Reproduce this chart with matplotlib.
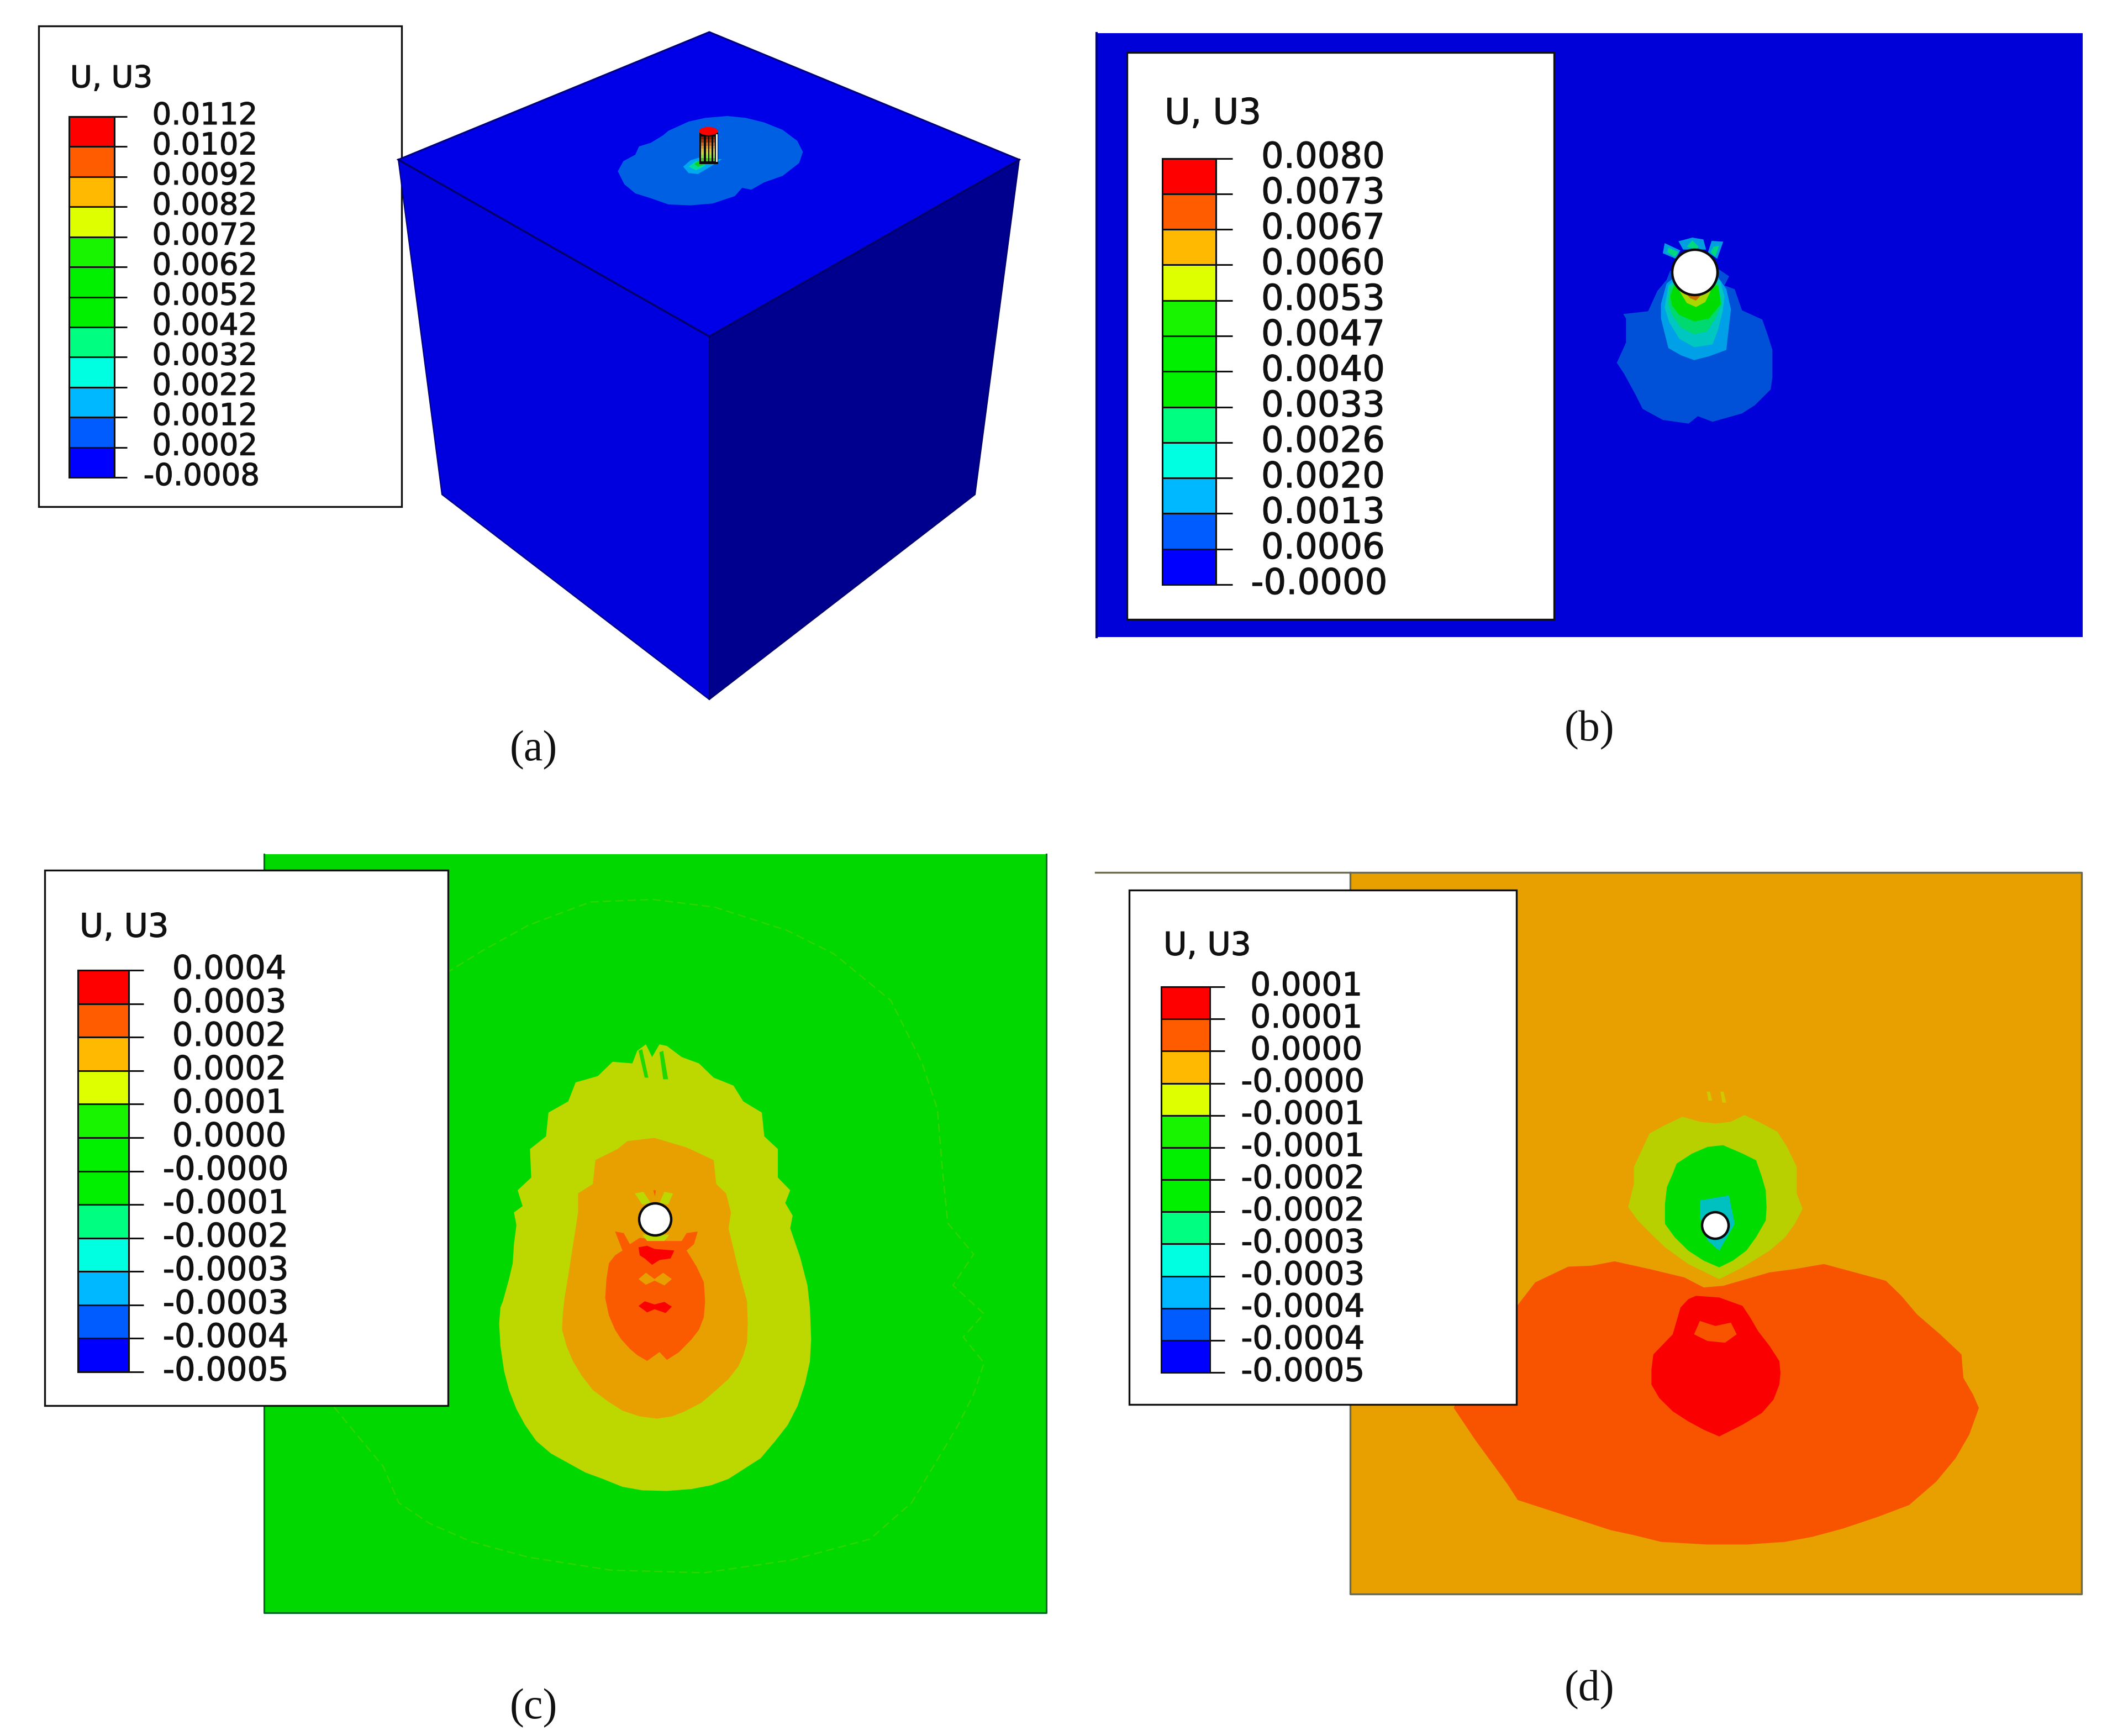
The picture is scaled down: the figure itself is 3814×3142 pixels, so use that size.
import matplotlib
matplotlib.use("Agg")
import matplotlib.pyplot as plt
import matplotlib.patheffects as pe
from matplotlib.patches import Polygon, Rectangle, Circle, Ellipse

W, H = 3814, 3142

# ---------------- legend data ----------------
TITLE = "U, U3"
LABELS_A = ["0.0112","0.0102","0.0092","0.0082","0.0072","0.0062","0.0052","0.0042","0.0032","0.0022","0.0012","0.0002","-0.0008"]
LABELS_B = ["0.0080","0.0073","0.0067","0.0060","0.0053","0.0047","0.0040","0.0033","0.0026","0.0020","0.0013","0.0006","-0.0000"]
LABELS_C = ["0.0004","0.0003","0.0002","0.0002","0.0001","0.0000","-0.0000","-0.0001","-0.0002","-0.0003","-0.0003","-0.0004","-0.0005"]
LABELS_D = ["0.0001","0.0001","0.0000","-0.0000","-0.0001","-0.0001","-0.0002","-0.0002","-0.0003","-0.0003","-0.0004","-0.0004","-0.0005"]
BAND_COLORS = ['#ff0000','#ff5c00','#ffb900','#deff00','#18f400','#00f000','#00f000','#00ff80','#00ffe0','#00b8ff','#005cff','#0000ff']
CAPTIONS = ["(a)", "(b)", "(c)", "(d)"]

# ---------------- contour outlines ----------------
A_ZONE = [(205,390),(235,335),(300,300),(320,255),(385,235),(450,195),(480,170),(590,120),(680,100),(800,90),(900,100),(1000,125),(1100,165),(1180,225),(1210,285),(1190,345),(1100,415),(1000,450),(930,490),(880,480),(840,525),(720,565),(600,575),(480,570),(380,535),(300,510),(240,460)]
A_SPOT1 = [(560,365),(600,330),(650,315),(770,325),(700,370),(640,405),(590,400)]
A_SPOT2 = [(590,365),(630,335),(670,335),(680,360),(630,385)]
A_SPOT3 = [(620,350),(650,330),(670,340),(670,355),(640,365)]
PIN_COLORS = ['#8a2000','#a83c10','#c86a28','#d89a38','#d8c040','#c0d840','#90e040','#50c030']
PIN_STRIPES = [(658,672),(685,695),(703,713),(722,732)]

B_ZONE = [(415,655),(550,640),(600,530),(650,470),(670,420),(930,410),(990,450),(965,500),(1020,520),(1060,635),(1170,685),(1200,770),(1225,850),(1225,1000),(1215,1065),(1130,1150),(1060,1195),(900,1240),(820,1210),(770,1250),(630,1230),(520,1170),(480,1090),(420,980),(380,920),(430,810),(430,680)]
B_SKY = [(620,600),(650,490),(700,450),(920,440),(975,520),(1000,630),(980,800),(975,850),(880,885),(800,905),(730,880),(660,840),(640,760),(620,680)]
B_CYAN = [(640,620),(660,500),(700,470),(940,470),(965,560),(955,640),(930,740),(900,820),(800,835),(720,790),(665,700)]
B_MINT = [(660,600),(665,510),(700,490),(930,490),(950,600),(915,680),(870,750),(800,765),(730,730),(680,660)]
B_GREEN = [(670,560),(690,500),(930,500),(945,600),(880,680),(800,695),(720,660),(680,610)]
B_YELLOW = [(720,530),(890,530),(860,590),(810,617),(760,595)]
B_ORANGE = [(750,540),(850,540),(810,582),(780,570)]
B_SPIKE_OUT = [[(640,270),(725,310),(700,355),(630,325)],[(715,260),(790,240),(850,250),(865,305),(740,305)],[(895,258),(958,262),(925,355),(875,320)]]
B_SPIKE_IN = [[(660,295),(715,318),(695,345),(655,320)],[(760,290),(790,255),(825,290),(810,305)],[(905,290),(935,285),(915,345),(890,320)]]

C_OUTER = [(165,1095),(210,1150),(260,1210),(290,1280),(350,1320),(430,1355),(540,1385),(700,1410),(880,1415),(1050,1390),(1200,1350),(1280,1280),(1370,1130),(1400,1070),(1420,1010),(1380,960),(1420,915),(1360,860),(1400,800),(1350,740),(1340,640),(1330,520),(1300,430),(1240,310),(1130,220),(1040,175),(900,130),(780,115),(660,120),(540,165),(450,215),(385,255)]
C_YELLOW = [(680,90),(715,70),(740,110),(770,70),(800,75),(860,110),(930,130),(990,175),(1070,200),(1110,250),(1185,285),(1195,360),(1250,400),(1250,490),(1300,530),(1280,570),(1310,610),(1300,650),(1340,740),(1370,830),(1380,900),(1385,1000),(1380,1070),(1360,1140),(1330,1210),(1290,1270),(1240,1320),(1180,1375),(1110,1410),(1050,1440),(980,1460),(900,1472),(800,1478),(700,1476),(620,1465),(540,1440),(470,1420),(400,1390),(330,1360),(270,1320),(225,1270),(190,1220),(160,1160),(140,1100),(125,1020),(120,950),(125,900),(135,880),(160,810),(175,760),(180,700),(190,640),(180,600),(215,580),(195,530),(250,490),(245,400),(310,360),(320,285),(400,250),(430,190),(520,170),(580,125),(660,130)]
C_NOTCHES = [[(685,90),(700,85),(725,175),(710,175)],[(770,95),(785,90),(805,180),(785,180)]]
C_ORANGE = [(640,375),(750,365),(880,395),(990,435),(1000,510),(1040,540),(1060,600),(1050,650),(1090,780),(1125,880),(1128,950),(1125,1010),(1110,1050),(1090,1085),(1050,1125),(1000,1160),(940,1200),(870,1228),(820,1243),(760,1250),(690,1243),(620,1225),(560,1195),(500,1160),(455,1115),(420,1070),(395,1025),(375,970),(378,920),(385,870),(400,800),(410,750),(440,600),(440,540),(500,510),(510,435),(600,400)]
C_REDORANGE = [(590,660),(625,665),(650,700),(690,680),(800,690),(860,690),(880,665),(925,660),(910,700),(880,720),(920,770),(950,820),(955,880),(950,930),(930,970),(900,1000),(850,1040),(800,1065),(770,1040),(720,1068),(680,1050),(650,1030),(615,1000),(590,970),(565,925),(550,870),(555,810),(565,760),(590,735),(620,720)]
C_RED1 = [(685,710),(720,705),(750,715),(830,720),(815,745),(770,750),(740,765),(710,745),(690,735)]
C_RED2 = [(685,895),(710,880),(750,890),(790,882),(820,897),(795,917),(750,905),(720,915)]
C_BLOBS = [(685,810),(715,790),(750,810),(785,790),(820,810),(790,830),(750,815),(715,828)]
C_TOP_YEL = [[(670,540),(705,535),(735,570),(700,575)],[(770,570),(790,535),(825,540),(805,575)],[(700,670),(810,670),(790,690),(720,690)]]
C_TOP_RED = [(745,530),(755,530),(752,550)]

D_REDORANGE = [(205,770),(255,695),(340,648),(400,645),(460,632),(550,655),(640,680),(690,710),(740,705),(860,665),(925,655),(1000,640),(1080,665),(1160,690),(1200,735),(1240,790),(1300,850),(1355,910),(1360,980),(1385,1030),(1400,1070),(1375,1150),(1340,1220),(1290,1290),(1220,1360),(1140,1395),(1050,1430),(970,1455),(900,1470),(800,1478),(700,1478),(580,1470),(510,1450),(450,1435),(330,1390),(210,1345),(185,1300),(160,1260),(100,1165),(45,1070),(100,900)]
D_RED = [(630,770),(650,745),(670,735),(730,740),(790,765),(810,800),(830,840),(860,885),(885,930),(888,965),(885,1000),(870,1045),(840,1085),(790,1120),(730,1155),(690,1135),(650,1110),(610,1080),(575,1040),(555,1000),(555,955),(560,910),(585,880),(610,850),(620,810)]
D_BLOB = [(680,810),(720,825),(760,815),(775,850),(745,875),(700,870),(665,850)]
D_YELLOW = [(635,200),(680,215),(720,220),(760,215),(795,195),(840,220),(880,245),(905,290),(930,350),(930,430),(945,475),(925,520),(900,560),(860,600),(790,650),(730,685),(650,640),(590,590),(550,545),(520,510),(495,470),(510,400),(510,350),(550,250),(590,225)]
D_GREEN = [(700,290),(740,285),(790,310),(825,330),(840,380),(850,420),(852,470),(850,510),(825,560),(800,600),(765,630),(730,650),(690,630),(650,600),(615,560),(590,520),(590,460),(595,410),(610,370),(620,340),(660,310)]
D_CYAN = [(680,450),(755,435),(770,520),(730,600),(700,570),(680,500)]
D_TICKS = [[(698,125),(706,125),(712,152),(702,152)],[(733,125),(741,125),(748,158),(738,158)]]


def z(points, ox, oy, sx, sy=None):
    sy = sx if sy is None else sy
    return [(ox + x / sx, oy + y / sy) for x, y in points]


fig = plt.figure(figsize=(W / 100, H / 100), dpi=100, facecolor="white")
ax = fig.add_axes([0, 0, 1, 1])
ax.set_xlim(0, W)
ax.set_ylim(H, 0)
ax.axis("off")


def poly(pts, color, zo=2, ec=None, lw=0):
    ax.add_patch(Polygon(pts, closed=True, facecolor=color, edgecolor=ec if ec else color, linewidth=lw, zorder=zo))


def rect(x0, y0, x1, y1, fc, ec="none", lw=0, zo=2):
    ax.add_patch(Rectangle((x0, y0), x1 - x0, y1 - y0, facecolor=fc, edgecolor=ec, linewidth=lw, zorder=zo))


def legend(box, bar, tick_x, top, bottom, labels, cx, title_xy, em):
    fs = em * 0.72
    heavy = [pe.withStroke(linewidth=0.9, foreground="#111111")]
    rect(box[0], box[1], box[2], box[3], "white", ec="#101010", lw=2.4, zo=10)
    step = (bottom - top) / (len(labels) - 1)
    for i, c in enumerate(BAND_COLORS):
        rect(bar[0], top + i * step, bar[1], top + (i + 1) * step, c, zo=11)
    rect(bar[0], top, bar[1], bottom, "none", ec="#101010", lw=2.2, zo=12)
    for i, lab in enumerate(labels):
        y = top + i * step
        ax.plot([bar[0], tick_x], [y, y], color="#101010", lw=2.2, solid_capstyle="butt", zorder=12)
        x = cx - 0.11 * em if lab.startswith("-") else cx
        ax.text(x, y - 1, lab, ha="center", va="center", fontsize=fs, color="#111111",
                family="DejaVu Sans", zorder=13, path_effects=heavy)
    ax.text(title_xy[0], title_xy[1] + 4, TITLE, ha="left", va="center", fontsize=fs, color="#111111",
            family="DejaVu Sans", zorder=13, path_effects=heavy)


def hole(cx, cy, r):
    ax.add_patch(Circle((cx, cy), r, facecolor="white", edgecolor="#0a0a0a", linewidth=3.2, zorder=8))


# ---------------- panel (a) ----------------
legend((70, 47, 727, 917), (125, 207), 230, 211, 864, LABELS_A, 371, (127, 139), 54.5)
T, L, R, M, B, LB, RB = (1284, 58), (721, 289), (1845, 289), (1284, 609), (1284, 1266), (800, 895), (1765, 895)
poly([L, M, B, LB], "#0000de", 22, ec="#00007a", lw=1.5)
poly([M, R, RB, B], "#00008e", 22, ec="#00006a", lw=1.5)
poly([T, R, M, L], "#0000e8", 23, ec="#00007a", lw=2.2)
ax.plot([L[0], M[0], R[0]], [L[1], M[1], R[1]], color="#00006a", lw=2.4, zorder=24)
ax.plot([M[0], B[0]], [M[1], B[1]], color="#00006a", lw=1.6, zorder=24)
oa = (1050, 180, 3)
poly(z(A_ZONE, *oa), "#0060e4", 25)
poly(z(A_SPOT1, *oa), "#00a8ee", 25)
poly(z(A_SPOT2, *oa), "#00dca0", 25)
poly(z(A_SPOT3, *oa), "#10d020", 25)
# pin
rect(1050 + 648 / 3, 180 + 180 / 3, 1050 + 750 / 3, 180 + 352 / 3, "#0a0a0a", zo=26)
n = len(PIN_COLORS)
for x0, x1 in PIN_STRIPES:
    for i, c in enumerate(PIN_COLORS):
        y0 = 200 + i * (335 - 200) / n
        y1 = 200 + (i + 1) * (335 - 200) / n
        rect(1050 + x0 / 3, 180 + y0 / 3, 1050 + x1 / 3, 180 + y1 / 3, c, zo=27)
rect(1050 + 738 / 3, 180 + 190 / 3, 1050 + 748 / 3, 180 + 340 / 3, "#f0f0e0", zo=27)
ax.add_patch(Ellipse((1050 + 697 / 3, 180 + 172 / 3), 102 / 3, 45 / 3, facecolor="#ff0000", edgecolor="none", zorder=28))

# ---------------- panel (b) ----------------
rect(1984, 60, 3770, 1153, "#0000d8", zo=1)
ax.plot([1985, 1985], [60, 1153], color="#000090", lw=3, zorder=2)
ob = (2800, 350, 3)
poly(z(B_ZONE, *ob), "#0050d8")
poly(z(B_SKY, *ob), "#00a0e8", 3)
poly(z(B_CYAN, *ob), "#00c8c0", 4)
poly(z(B_MINT, *ob), "#00d870", 4)
poly(z(B_GREEN, *ob), "#00dc00", 5)
poly(z(B_YELLOW, *ob), "#a8d800", 6)
poly(z(B_ORANGE, *ob), "#c87000", 6)
for s in B_SPIKE_OUT:
    poly(z(s, *ob), "#00a0e0", 5)
for s in B_SPIKE_IN:
    poly(z(s, *ob), "#00d880", 6)
hole(3068, 493, 41)
legend((2040, 95, 2813, 1121), (2104, 2201), 2231, 286.5, 1058, LABELS_B, 2395, (2108, 202), 64)

# ---------------- panel (c) ----------------
rect(478, 1546, 1894, 2919, "#00d800", zo=1)
ax.plot([478, 478, 1894, 1894], [1546, 2919, 2919, 1546], color="#006a20", lw=2.2, zorder=2)
oo = (450, 1520, 1.0667)
ox_, oy_ = zip(*z(C_OUTER, *oo))
ax.plot(ox_, oy_, color="#30d400", lw=1.8, ls=(0, (6, 3)), zorder=2)
oc = (850, 1850, 2.24, 1.742)
poly(z(C_YELLOW, *oc), "#bcd800")
for s in C_NOTCHES:
    poly(z(s, *oc), "#20d800", 3)
poly(z(C_ORANGE, *oc), "#e8a000", 4)
poly(z(C_REDORANGE, *oc), "#fa5a00", 5)
poly(z(C_RED1, *oc), "#fa0000", 6)
poly(z(C_RED2, *oc), "#fa0000", 6)
poly(z(C_BLOBS, *oc), "#e8a000", 6)
for s in C_TOP_YEL:
    poly(z(s, *oc), "#bcd800", 6)
poly(z(C_TOP_RED, *oc), "#fa5a00", 6)
hole(1186, 2207, 29)
legend((81, 1575, 811, 2544), (141, 233), 260, 1756, 2483, LABELS_C, 415, (144, 1675), 59)

# ---------------- panel (d) ----------------
rect(2444, 1579, 3768, 2885, "#e8a000", zo=1)
ax.plot([1983, 2444, 3768, 3768, 2444, 2444], [1579, 1579, 1579, 2885, 2885, 1579], color="#6a6a50", lw=2.4, zorder=2)
od = (2600, 1900, 1.4255, 1.6505)
poly(z(D_REDORANGE, *od), "#f85400")
poly(z(D_RED, *od), "#fa0000", 3)
poly(z(D_BLOB, *od), "#f85400", 4)
poly(z(D_YELLOW, *od), "#b8d000", 3)
poly(z(D_GREEN, *od), "#00dc00", 4)
poly(z(D_CYAN, *od), "#00c0c0", 5)
for s in D_TICKS:
    poly(z(s, *od), "#d0c800", 3)
hole(3105, 2218, 24)
legend((2044, 1611, 2745, 2542), (2102, 2190), 2217, 1786, 2484, LABELS_D, 2365, (2106, 1708), 58)

# ---------------- captions ----------------
for cap, (x, y) in zip(CAPTIONS, [(966, 1358), (2877, 1322), (966, 3092), (2877, 3059)]):
    ax.text(x, y, cap, ha="center", va="center", fontsize=56, color="#111111", family="Liberation Serif")

fig.savefig("out.png", dpi=100, facecolor="white")
